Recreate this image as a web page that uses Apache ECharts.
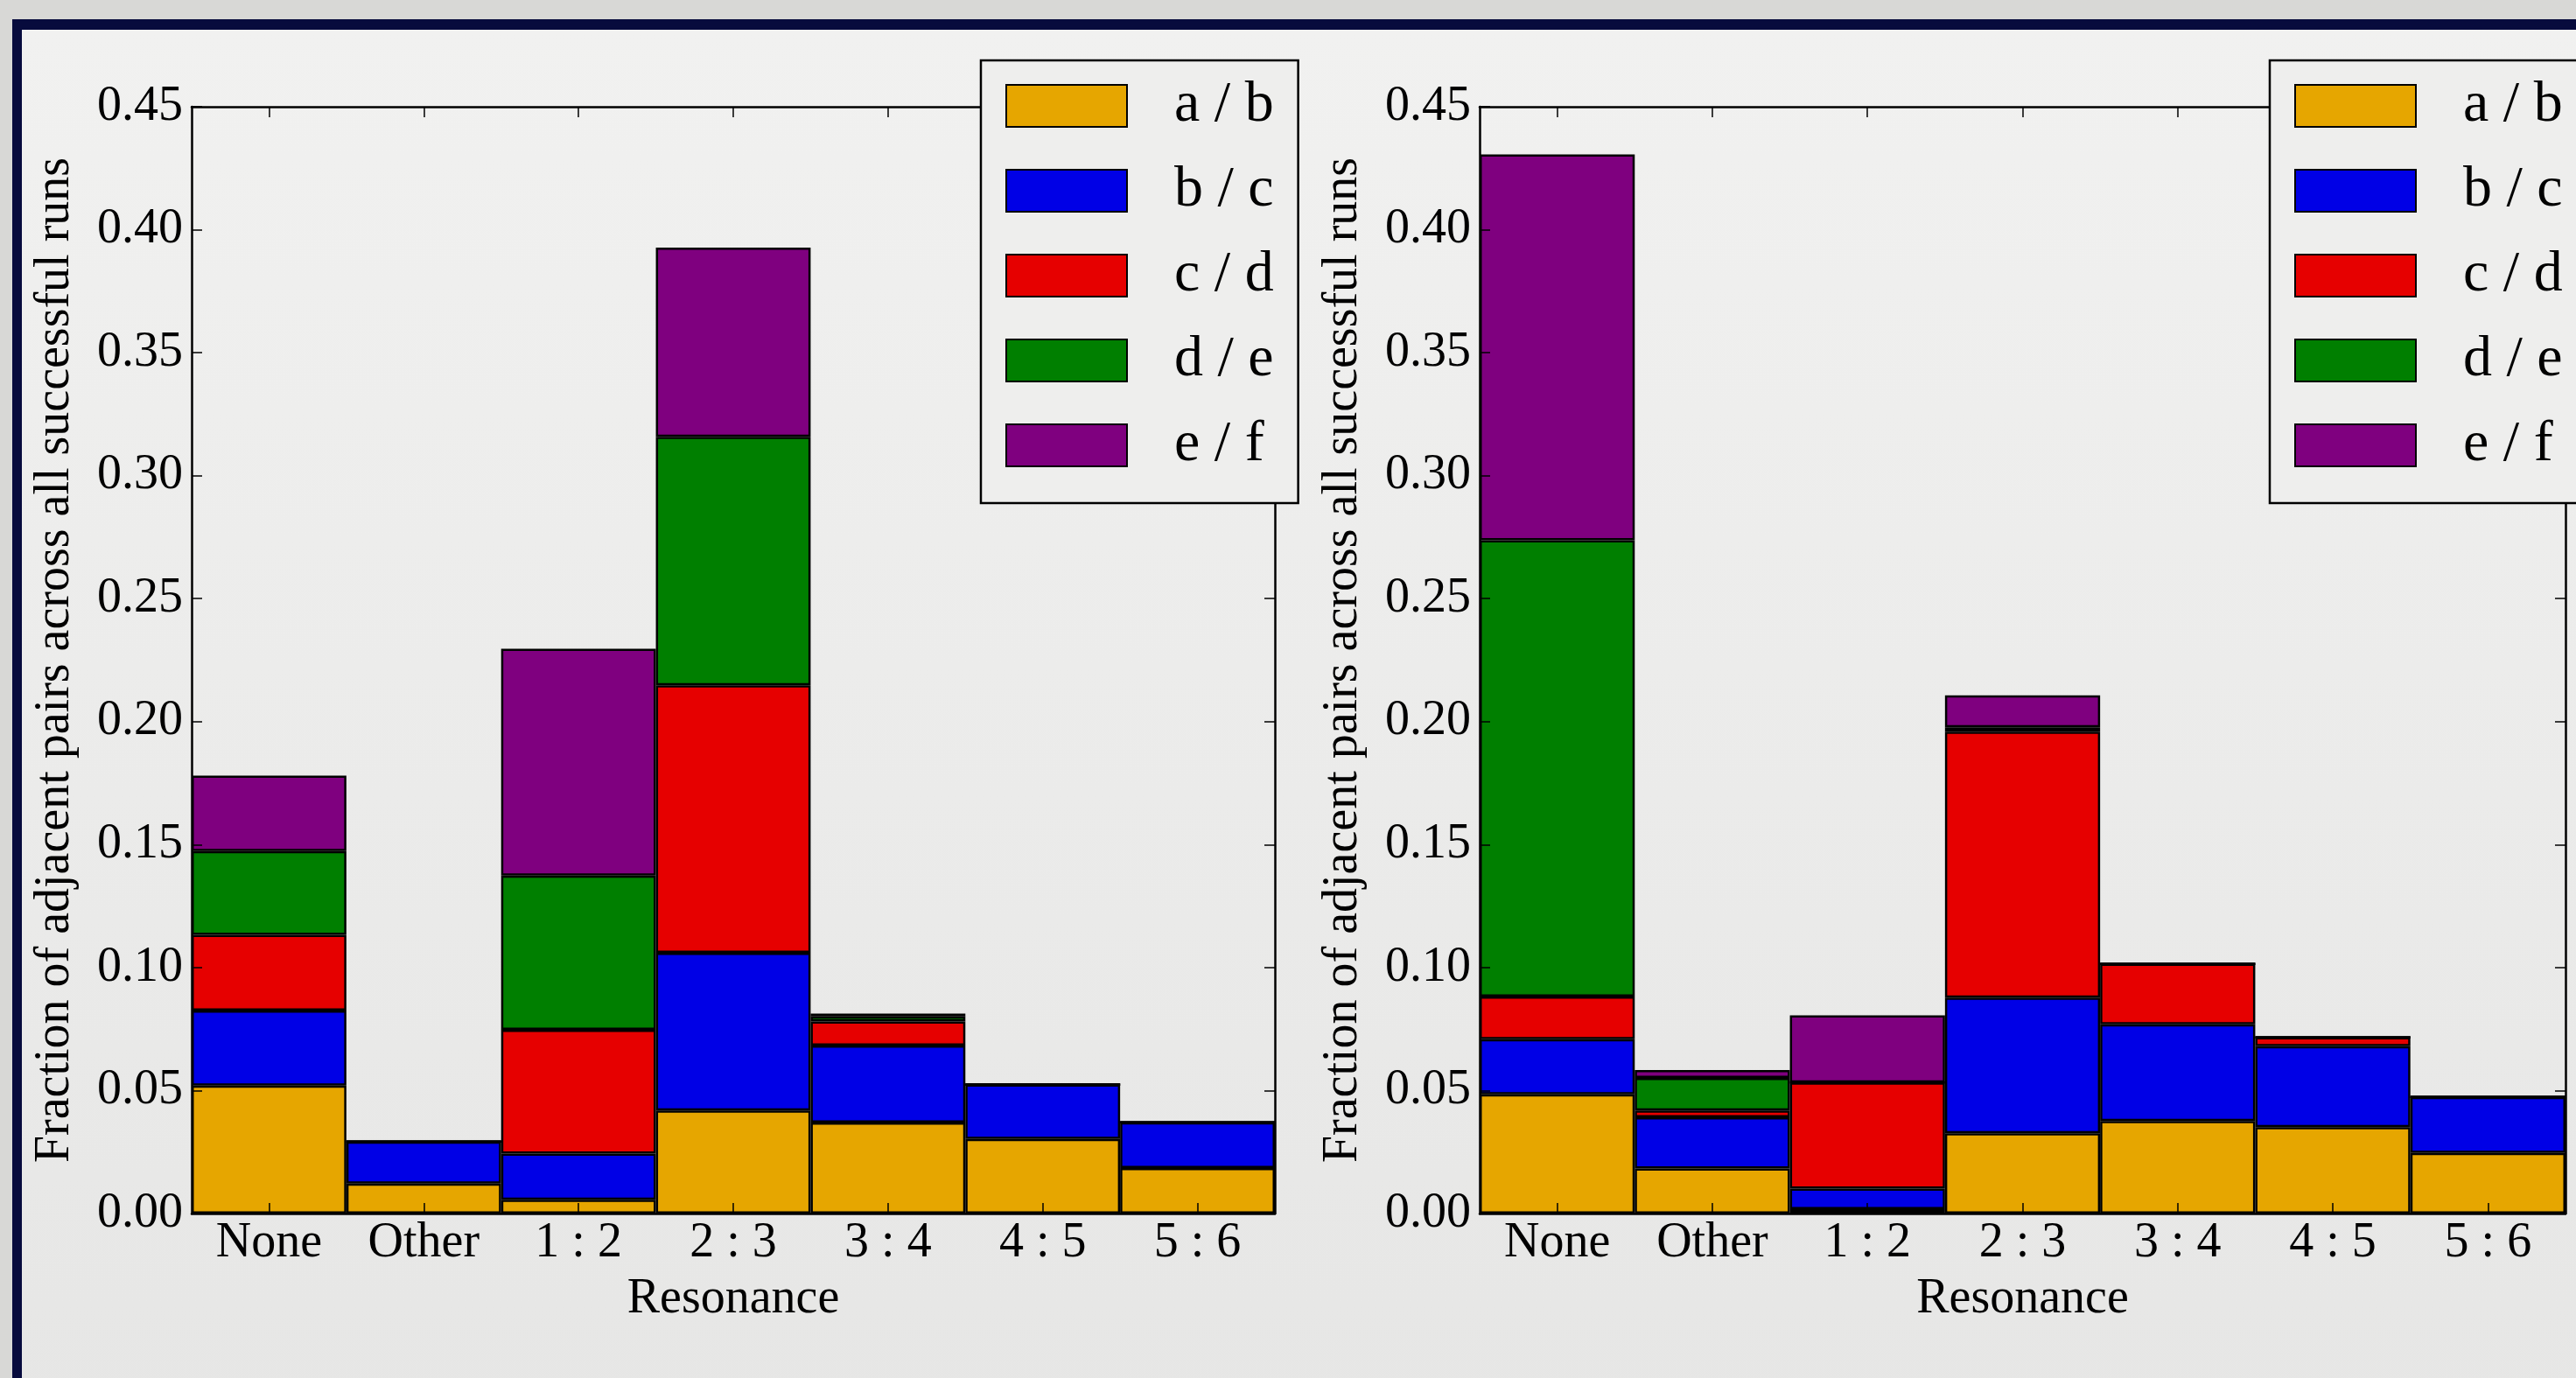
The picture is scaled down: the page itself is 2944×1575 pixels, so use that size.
<!DOCTYPE html>
<html>
<head>
<meta charset="utf-8">
<script src="https://cdn.jsdelivr.net/npm/echarts@6/dist/echarts.min.js"></script>
<style>
  html, body { margin:0; padding:0; width:2944px; height:1575px; overflow:hidden; background:#d8d8d6; }
  #frame { position:absolute; left:14px; top:22px; width:3000px; height:1600px;
           border-left:11px solid #070b3d; border-top:12px solid #070b3d;
           background:linear-gradient(to bottom, #f1f1f0 0%, #e6e6e5 100%); }
  #chart { position:absolute; left:0; top:0; width:2944px; height:1575px; }
</style>
</head>
<body>
<div id="frame"></div>
<div id="chart"></div>
<script>
// ---- data ----
const categories = ['None', 'Other', '1 : 2', '2 : 3', '3 : 4', '4 : 5', '5 : 6'];
const seriesNames = ['a / b', 'b / c', 'c / d', 'd / e', 'e / f'];
const yTicks = [0, 0.05, 0.10, 0.15, 0.20, 0.25, 0.30, 0.35, 0.40, 0.45];

// left panel
const abLeft = [0.0520, 0.0122, 0.0056, 0.0419, 0.0370, 0.0303, 0.0185];
const bcLeft = [0.0305, 0.0171, 0.0188, 0.0641, 0.0313, 0.0222, 0.0186];
const cdLeft = [0.0308, 0, 0.0503, 0.1088, 0.0098, 0, 0];
const deLeft = [0.0341, 0, 0.0627, 0.1010, 0.0020, 0, 0];
const efLeft = [0.0306, 0, 0.0922, 0.0769, 0.0012, 0, 0];

// right panel
const abRight = [0.0485, 0.0183, 0.0018, 0.0326, 0.0376, 0.0351, 0.0246];
const bcRight = [0.0224, 0.0208, 0.0083, 0.0552, 0.0393, 0.0329, 0.0228];
const cdRight = [0.0173, 0.0028, 0.0432, 0.1081, 0.0247, 0.0037, 0];
const deRight = [0.1855, 0.0132, 0, 0.0018, 0, 0, 0];
const efRight = [0.1569, 0.0032, 0.0273, 0.0130, 0, 0, 0];

const colors = ['#e6a600', '#0000e6', '#e60000', '#007f00', '#7f007f'];
const yName = 'Fraction of adjacent pairs across all successful runs';
const xName = 'Resonance';

// ---- chart ----
const FONT = '"Liberation Serif", "Times New Roman", serif';
const chart = echarts.init(document.getElementById('chart'), null, {renderer: 'canvas'});

const grids = [
  {left: 219, top: 122, width: 1238, height: 1265},
  {left: 1691, top: 122, width: 1241, height: 1265}
];

function xAxes(gi) {
  const base = {
    gridIndex: gi, type: 'category', data: categories, boundaryGap: true, z: 10,
    axisLine: {show: true, onZero: false, lineStyle: {color: '#000', width: 2.5}},
    axisTick: {show: true, inside: true, alignWithLabel: true, length: 12, lineStyle: {color: '#000', width: 1.5}},
    splitLine: {show: false}
  };
  return [
    Object.assign({}, base, {
      position: 'bottom',
      axisLabel: {show: true, color: '#000', fontFamily: FONT, fontSize: 56, margin: 6},
      name: xName, nameLocation: 'middle', nameGap: 70,
      nameTextStyle: {color: '#000', fontFamily: FONT, fontSize: 56}
    }),
    Object.assign({}, base, {position: 'top', axisLabel: {show: false}})
  ];
}
function yAxes(gi) {
  const base = {
    gridIndex: gi, type: 'value', min: 0, max: 0.45, interval: 0.05, z: 10,
    axisLine: {show: true, onZero: false, lineStyle: {color: '#000', width: 2.5}},
    axisTick: {show: true, inside: true, length: 12, lineStyle: {color: '#000', width: 1.5}},
    splitLine: {show: false}
  };
  return [
    Object.assign({}, base, {
      position: 'left',
      axisLabel: {show: true, color: '#000', fontFamily: FONT, fontSize: 56, margin: 10,
                  formatter: v => v.toFixed(2), padding: [0, 0, 8, 0]},
      name: yName, nameLocation: 'middle', nameGap: 128, nameRotate: 90,
      nameTextStyle: {color: '#000', fontFamily: FONT, fontSize: 56}
    }),
    Object.assign({}, base, {position: 'right', axisLabel: {show: false}})
  ];
}

const leftData = [abLeft, bcLeft, cdLeft, deLeft, efLeft];
const rightData = [abRight, bcRight, cdRight, deRight, efRight];

const series = [];
[leftData, rightData].forEach((set, gi) => {
  set.forEach((arr, i) => {
    series.push({
      type: 'bar', name: seriesNames[i], stack: 'g' + gi,
      xAxisIndex: gi * 2, yAxisIndex: gi * 2,
      data: arr, barCategoryGap: '0%', barWidth: '100%',
      itemStyle: {color: colors[i], borderColor: '#000', borderWidth: 2.5},
      emphasis: {disabled: true},
      z: 2
    });
  });
});

function legend(left) {
  return {
    show: true, orient: 'vertical', left: left, top: 69, z: 20,
    data: seriesNames,
    itemWidth: 138, itemHeight: 48, itemGap: 31,
    padding: [19, 28, 33, 28],
    backgroundColor: '#eeeeed', borderColor: '#000', borderWidth: 2.5, borderRadius: 0,
    icon: 'rect',
    itemStyle: {borderColor: '#000', borderWidth: 2},
    textStyle: {color: '#000', fontFamily: FONT, fontSize: 66, lineHeight: 66, padding: [0, 0, 0, 49]},
    selectedMode: false
  };
}

chart.setOption({
  animation: false,
  backgroundColor: 'transparent',
  textStyle: {fontFamily: FONT},
  grid: grids,
  xAxis: xAxes(0).concat(xAxes(1)),
  yAxis: yAxes(0).concat(yAxes(1)),
  legend: [legend(1121), legend(2594)],
  series: series
});
</script>
</body>
</html>
